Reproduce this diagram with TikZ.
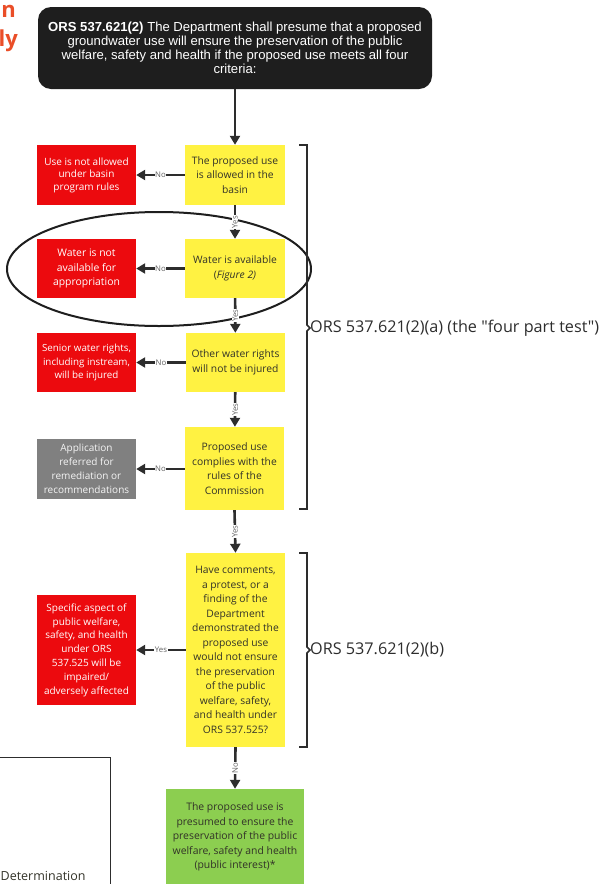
\documentclass[tikz,border=0pt]{standalone}
\usepackage{fontspec}
\setmainfont{Open Sans}
\newfontfamily\arialf{Liberation Sans}
\newfontfamily\osplain[Ligatures=TeXOff]{Open Sans}
\usetikzlibrary{arrows.meta}
\definecolor{yel}{RGB}{255,242,66}
\definecolor{redc}{RGB}{236,10,14}
\definecolor{grayc}{RGB}{128,128,128}
\definecolor{greenc}{RGB}{140,206,80}
\definecolor{blk}{RGB}{30,30,30}
\definecolor{txtd}{RGB}{50,50,40}
\definecolor{arr}{RGB}{45,45,45}
\definecolor{orng}{RGB}{234,78,40}
\tikzset{
  box/.style={draw=none, align=center, inner sep=1pt},
  ybox/.style={box, fill=yel, text=txtd, font=\fontsize{10.3}{14.5}\selectfont},
  rbox/.style={box, fill=redc, text=white, font=\fontsize{10}{13.8}\selectfont},
  gbox/.style={box, fill=grayc, text=white!92!gray, font=\fontsize{10}{14}\selectfont},
  conn/.style={draw=arr, line width=2.6pt, -{Triangle[length=9pt,width=10pt]}},
  lab/.style={font=\fontsize{7.8}{8}\selectfont, text=gray!75!black, fill=white, inner sep=0.6pt},
  brk/.style={draw=arr, line width=1.6pt},
  brklab/.style={anchor=west, inner sep=0pt, font=\osplain\fontsize{16.2}{18}\selectfont, text=arr}
}
\begin{document}
\begin{tikzpicture}[x=1pt,y=-1pt]
\useasboundingbox (0,0) rectangle (605,884);
% cropped title fragments
\node[anchor=base east, inner sep=0pt, text=orng, font=\bfseries\fontsize{22}{24}\selectfont] (t1) at (16,17) {n};
\node[anchor=base east, inner sep=0pt, text=orng, font=\bfseries\fontsize{22}{24}\selectfont] (t2) at (18,46) {ly};
% legend box fragment
\draw[line width=1pt, draw=arr] (-5,757) -- (110,757) -- (110,890);
\node[anchor=base west, inner sep=0pt, text=txtd, font=\fontsize{12.5}{14}\selectfont] (det) at (0.5,880) {Determination};
% top box
\node[box, fill=blk, rounded corners=13pt, minimum width=394pt, minimum height=82pt, text=white,
  font=\arialf\fontsize{13.1}{14}\selectfont] (top) at (235,48)
  {\textbf{ORS 537.621(2)} The Department shall presume that a proposed\\groundwater use will ensure the preservation of the public\\welfare, safety and health if the proposed use meets all four\\criteria:};
% ellipse
\draw[line width=2pt, draw=blk] (159,269) ellipse [x radius=152pt, y radius=57pt];
% yellow column
\node[ybox, minimum width=100pt, minimum height=60pt] (y1) at (235,175) {The proposed use\\is allowed in the\\basin};
\node[ybox, minimum width=100pt, minimum height=59pt] (y2) at (235,268.5) {Water is available\\(\textit{Figure 2)}};
\node[ybox, minimum width=99pt, minimum height=59pt] (y3) at (235.5,362.5) {Other water rights\\will not be injured};
\node[ybox, minimum width=99pt, minimum height=83pt] (y4) at (234.5,468.5) {Proposed use\\complies with the\\rules of the\\Commission};
\node[ybox, minimum width=99pt, minimum height=194pt] (y5) at (235.5,650) {Have comments,\\a protest, or a\\finding of the\\Department\\demonstrated the\\proposed use\\would not ensure\\the preservation\\of the public\\welfare, safety,\\and health under\\ORS 537.525?};
\node[box, fill=greenc, text=txtd, minimum width=138pt, minimum height=96pt, font=\fontsize{10.4}{14.5}\selectfont] (gr) at (235,837) {The proposed use is\\presumed to ensure the\\preservation of the public\\welfare, safety and health\\(public interest)*};
% left column
\node[rbox, minimum width=99pt, minimum height=60pt, font=\fontsize{10}{12.6}\selectfont] (r1) at (86.5,175) {Use is not allowed\\under basin\\program rules};
\node[rbox, minimum width=99pt, minimum height=59pt, font=\fontsize{10.4}{14.5}\selectfont] (r2) at (86.5,268.5) {Water is not\\available for\\appropriation};
\node[rbox, minimum width=99pt, minimum height=59pt, font=\fontsize{9.8}{13.5}\selectfont] (r3) at (86.5,362.5) {Senior water rights,\\including instream,\\will be injured};
\node[gbox, minimum width=99pt, minimum height=60pt] (g4) at (86.5,469) {Application\\referred for\\remediation or\\recommendations};
\node[rbox, minimum width=99pt, minimum height=110pt] (r5) at (86.5,650) {Specific aspect of\\public welfare,\\safety, and health\\under ORS\\537.525 will be\\impaired/\\adversely affected};
% vertical connectors
\draw[conn] (top.south -| y1.north) -- (y1.north);
\draw[conn] (y1) -- node[lab, rotate=90] {Yes} (y2);
\draw[conn] (y2) -- node[lab, rotate=90] {Yes} (y3);
\draw[conn] (y3) -- node[lab, rotate=90] {Yes} (y4);
\draw[conn] (y4.south) -- node[lab, rotate=90] {Yes} (y5.north);
\draw[conn] (y5.south) -- node[lab, rotate=90] {No} (gr.north);
% horizontal connectors
\draw[conn] (y1) -- node[lab] {No} (r1);
\draw[conn] (y2) -- node[lab] {No} (r2);
\draw[conn] (y3) -- node[lab] {No} (r3);
\draw[conn] (y4.west |- g4) -- node[lab] {No} (g4);
\draw[conn] (y5) -- node[lab] {Yes} (r5);
% brackets
\coordinate (b1m) at (310,328);
\draw[brk] (299,145) -- (307,145) -- (307,325) -- (b1m) -- (307,331) -- (307,509) -- (299,509);
\node[brklab] (b1t) at (b1m) {ORS 537.621(2)(a) (the "four part test")};
\coordinate (b2m) at (310,650);
\draw[brk] (299,553) -- (307,553) -- (307,647) -- (b2m) -- (307,653) -- (307,747) -- (299,747);
\node[brklab] (b2t) at (b2m) {ORS 537.621(2)(b)};
\end{tikzpicture}
\end{document}
